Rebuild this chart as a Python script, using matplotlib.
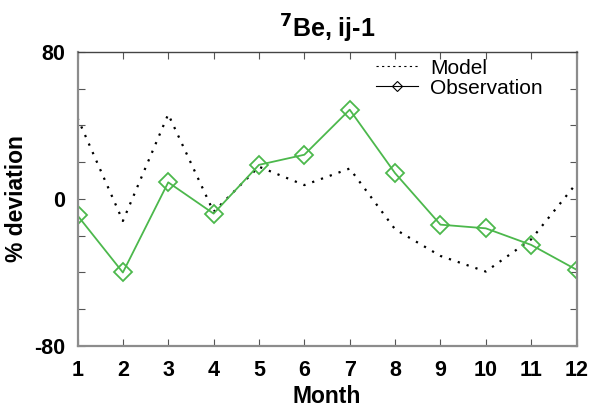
import matplotlib
matplotlib.use("Agg")
import matplotlib.pyplot as plt
from matplotlib.lines import Line2D

plt.rcParams["font.family"] = ["Liberation Sans", "DejaVu Sans"]

# Monthly values (% deviation)
months = [1, 2, 3, 4, 5, 6, 7, 8, 9, 10, 11, 12]
model = [44, -12, 46, -7, 17.5, 7.5, 16.5, -16.5, -31, -39.5, -22, 8.5]
observation = [-9, -40, 9, -8, 18.5, 24, 48.5, 14, -14, -16, -25, -38.5]

title = r"$\mathbf{^7}$Be, ij-1"
green = "#4cb84c"
spine_col = "#8c8c8c"

fig = plt.figure(figsize=(5.93, 4.12), dpi=100)
ax = fig.add_axes([0.1307, 0.160, 0.8415, 0.7145])

ax.plot(months, model, color="black", linestyle=(0, (1, 3.2)), linewidth=1.6)
ax.plot(months, observation, color=green, linewidth=1.3, marker="D",
        markersize=9.5, markerfacecolor="none", markeredgecolor=green,
        markeredgewidth=1.3)

ax.set_xlim(1, 12)
ax.set_ylim(-80, 80)
ax.set_xticks(months)
ax.set_xticklabels([str(m) for m in months])
ax.set_yticks(range(-80, 81, 20))
ax.set_yticklabels(["-80", "", "", "", "0", "", "", "", "80"])
ax.tick_params(direction="in", length=5, width=0.8, color="#555555",
               top=True, right=True, labelsize=15.5)
ax.tick_params(axis="x", pad=10)
ax.tick_params(axis="y", pad=9)
for lab in ax.get_xticklabels() + ax.get_yticklabels():
    lab.set_fontweight("bold")

for side in ["left", "right", "bottom"]:
    ax.spines[side].set_color(spine_col)
    ax.spines[side].set_linewidth(1.6)
ax.spines["top"].set_color("#444444")
ax.spines["top"].set_linewidth(1.0)

ax.set_xlabel("Month", fontsize=16.5, fontweight="bold", labelpad=3)
ax.set_ylabel("% deviation", fontsize=16.5, fontweight="bold", labelpad=4)
ax.set_title(title, fontsize=18, fontweight="bold", pad=10)

handles = [
    Line2D([], [], color="black", linestyle=(0, (2, 3)), linewidth=0.8),
    Line2D([], [], color="black", linewidth=0.8, marker="D", markersize=5,
           markerfacecolor="none", markeredgewidth=0.8),
]
ax.legend(handles, ["Model", "Observation"], loc="upper right",
          bbox_to_anchor=(0.97, 1.04), frameon=False, fontsize=15,
          handlelength=2.0, handletextpad=0.6, labelspacing=0.05)

fig.savefig("out.png", dpi=100)
